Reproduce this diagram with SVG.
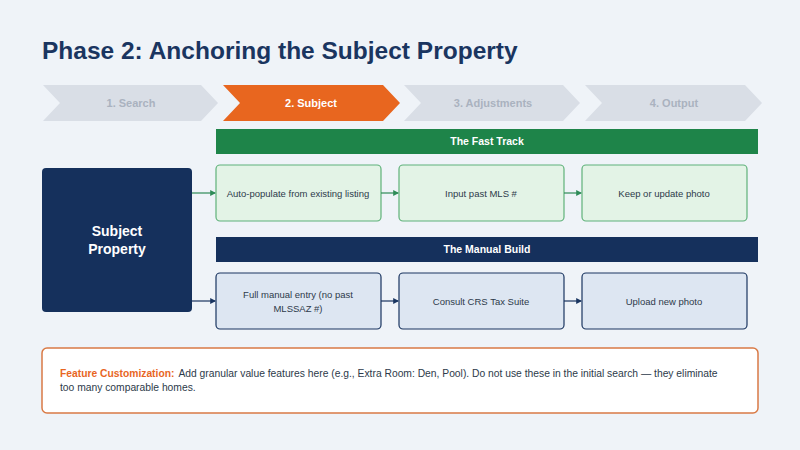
<svg xmlns="http://www.w3.org/2000/svg" width="800" height="450" viewBox="0 0 800 450">
<defs>
<marker id="ag" markerWidth="5" markerHeight="5" refX="4" refY="2.5" orient="auto"><path d="M0,0 L5,2.5 L0,5 z" fill="#2e8b57"/></marker>
<marker id="ab" markerWidth="5" markerHeight="5" refX="4" refY="2.5" orient="auto"><path d="M0,0 L5,2.5 L0,5 z" fill="#1a3560"/></marker>
</defs>
<style>
text{font-family:"Liberation Sans",Arial,sans-serif}
.chev{fill:#d9dee6}
.ct{font-size:11px;font-weight:bold;fill:#aab2bf;text-anchor:middle}
.g{fill:#e3f3e6;stroke:#5fb27a;stroke-width:1.2}
.b{fill:#dde6f2;stroke:#1a3560;stroke-width:1.2}
.bt{font-size:9.5px;fill:#2d3a4a;text-anchor:middle}
.hd{font-size:10.5px;font-weight:bold;fill:#fff;text-anchor:middle}
</style>
<rect width="800" height="450" fill="#eff3f8"/>
<text x="42" y="59" font-size="24.5" font-weight="bold" fill="#1a3560">Phase 2: Anchoring the Subject Property</text>
<g id="steps">
<polygon class="chev" points="43,85 201,85 218,103 201,121 43,121 60,103"/>
<text class="ct" x="131" y="107">1. Search</text>
<polygon fill="#e8661f" points="223,85 383,85 400,103 383,121 223,121 240,103"/>
<text class="ct" x="311" y="107" style="fill:#fff">2. Subject</text>
<polygon class="chev" points="404,85 563,85 580,103 563,121 404,121 421,103"/>
<text class="ct" x="493" y="107">3. Adjustments</text>
<polygon class="chev" points="585,85 745,85 762,103 745,121 585,121 602,103"/>
<text class="ct" x="674" y="107">4. Output</text>
</g>
<g id="fast-track-header"><rect x="216" y="129" width="542" height="25" fill="#1e8449"/><text class="hd" x="487" y="145">The Fast Track</text></g>
<g id="manual-header"><rect x="216" y="237" width="542" height="25" fill="#15305c"/><text class="hd" x="487" y="253">The Manual Build</text></g>
<g id="subject"><rect x="42" y="168" width="150" height="144" rx="4" fill="#15305c"/>
<text x="117" y="236" font-size="14" font-weight="bold" fill="#fff" text-anchor="middle">Subject</text>
<text x="117" y="254" font-size="14" font-weight="bold" fill="#fff" text-anchor="middle">Property</text></g>
<g id="f1"><rect class="g" x="216" y="165" width="165" height="56" rx="4"/><text class="bt" x="298" y="197">Auto-populate from existing listing</text></g>
<g id="f2"><rect class="g" x="399" y="165" width="165" height="56" rx="4"/><text class="bt" x="481" y="197">Input past MLS #</text></g>
<g id="f3"><rect class="g" x="582" y="165" width="165" height="56" rx="4"/><text class="bt" x="664" y="197">Keep or update photo</text></g>
<g id="m1"><rect class="b" x="216" y="273" width="165" height="56" rx="4"/><text class="bt" x="298" y="298">Full manual entry (no past</text><text class="bt" x="298" y="312">MLSSAZ #)</text></g>
<g id="m2"><rect class="b" x="399" y="273" width="165" height="56" rx="4"/><text class="bt" x="481" y="305">Consult CRS Tax Suite</text></g>
<g id="m3"><rect class="b" x="582" y="273" width="165" height="56" rx="4"/><text class="bt" x="664" y="305">Upload new photo</text></g>
<g id="connectors" stroke-width="1.2">
<line x1="192" y1="193" x2="215" y2="193" stroke="#2e8b57" marker-end="url(#ag)"/>
<line x1="381" y1="193" x2="398" y2="193" stroke="#2e8b57" marker-end="url(#ag)"/>
<line x1="564" y1="193" x2="581" y2="193" stroke="#2e8b57" marker-end="url(#ag)"/>
<line x1="192" y1="301" x2="215" y2="301" stroke="#1a3560" marker-end="url(#ab)"/>
<line x1="381" y1="301" x2="398" y2="301" stroke="#1a3560" marker-end="url(#ab)"/>
<line x1="564" y1="301" x2="581" y2="301" stroke="#1a3560" marker-end="url(#ab)"/>
</g>
<g id="note"><rect x="42" y="348" width="716" height="65" rx="5" fill="#fff" stroke="#d97a45" stroke-width="1.5"/>
<text x="60" y="377" font-size="10.3" fill="#2d3a4a"><tspan font-weight="bold" fill="#e8661f">Feature Customization:</tspan><tspan dx="4">Add granular value features here (e.g., Extra Room: Den, Pool). Do not use these in the initial search — they eliminate</tspan></text>
<text x="60" y="391" font-size="10.3" fill="#2d3a4a">too many comparable homes.</text></g>
</svg>
